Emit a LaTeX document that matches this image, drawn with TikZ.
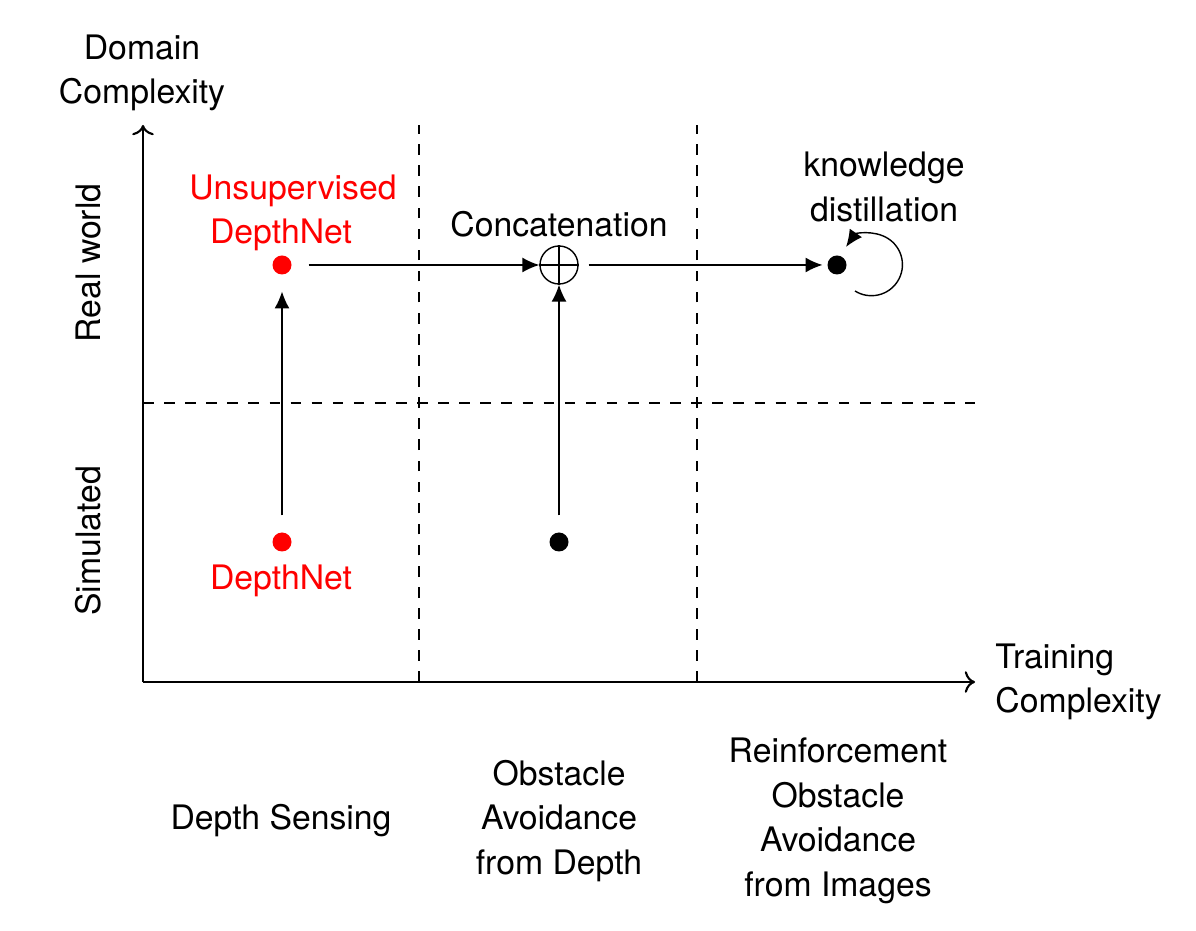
\documentclass[tikz,border=0pt]{standalone}
\usepackage{fontspec}
\setmainfont{TeX Gyre Heros}
\usetikzlibrary{arrows.meta}

\begin{document}
\begin{tikzpicture}[
      every node/.style = {align=center, font=\fontsize{9.6}{12.7}\selectfont},
      axis/.style = {->, line width=0.6pt},
      grid/.style = {dashed, line width=0.4pt},
      dot/.style = {circle, fill, inner sep=0pt, minimum size=0.19cm, outer sep=0.17cm},
      cnx/.style = {-{Latex[length=0.17cm, width=0.15cm]}, line width=0.4pt}]
  \useasboundingbox (-1.43,-2.48) rectangle (10.53,6.82);
  % axes and grid
  \draw[axis] (0,0) -- (0,5.57);
  \draw[axis] (0,0) -- (8.32,0);
  \draw[grid] (2.76,0) -- (2.76,5.57);
  \draw[grid] (5.54,0) -- (5.54,5.57);
  \draw[grid] (0,2.79) -- (8.32,2.79);
  \node (ylab) at (-0.01,6.09) {Domain\\Complexity};
  \node[anchor=west, align=left] (xlab) at (8.40,0.00) {Training\\Complexity};
  \node[rotate=90] (real) at (-0.55,4.19) {Real world};
  \node[rotate=90] (sim) at (-0.55,1.41) {Simulated};
  % stages
  \node (sense) at (1.38,-1.39) {Depth Sensing};
  \node (avoid) at (4.16,-1.39) {Obstacle\\Avoidance\\from Depth};
  \node (rl) at (6.95,-1.39) {Reinforcement\\Obstacle\\Avoidance\\from Images};
  % models
  \node[dot, red] (dn) at (1.39,1.40) {};
  \node[dot, red] (udn) at (1.39,4.17) {};
  \node[dot] (oa) at (4.16,1.40) {};
  \node[circle, draw, inner sep=0pt, minimum size=0.38cm] (cat) at (4.16,4.17) {};
  \draw (cat.north) -- (cat.south) (cat.west) -- (cat.east);
  \node[dot, outer sep=0.05cm] (kd) at (6.94,4.17) {};
  \node[red] at (1.50,4.69) {Unsupervised\\DepthNet\hspace*{0.24cm}};
  \node[red] at (1.38,1.01) {DepthNet};
  \node at (4.16,4.58) {Concatenation};
  \node at (7.41,4.95) {knowledge\\distillation};
  % arrows
  \draw[cnx] (dn) -- (udn);
  \draw[cnx] (oa) -- (cat);
  \draw[cnx] (udn) -- (cat);
  \draw[cnx, shorten <=0.1cm] (cat) -- (kd);
  \draw[cnx] ([shift={(0.18,-0.26)}]kd.center) arc[start angle=-122, end angle=145, radius=0.31];
\end{tikzpicture}
\end{document}
